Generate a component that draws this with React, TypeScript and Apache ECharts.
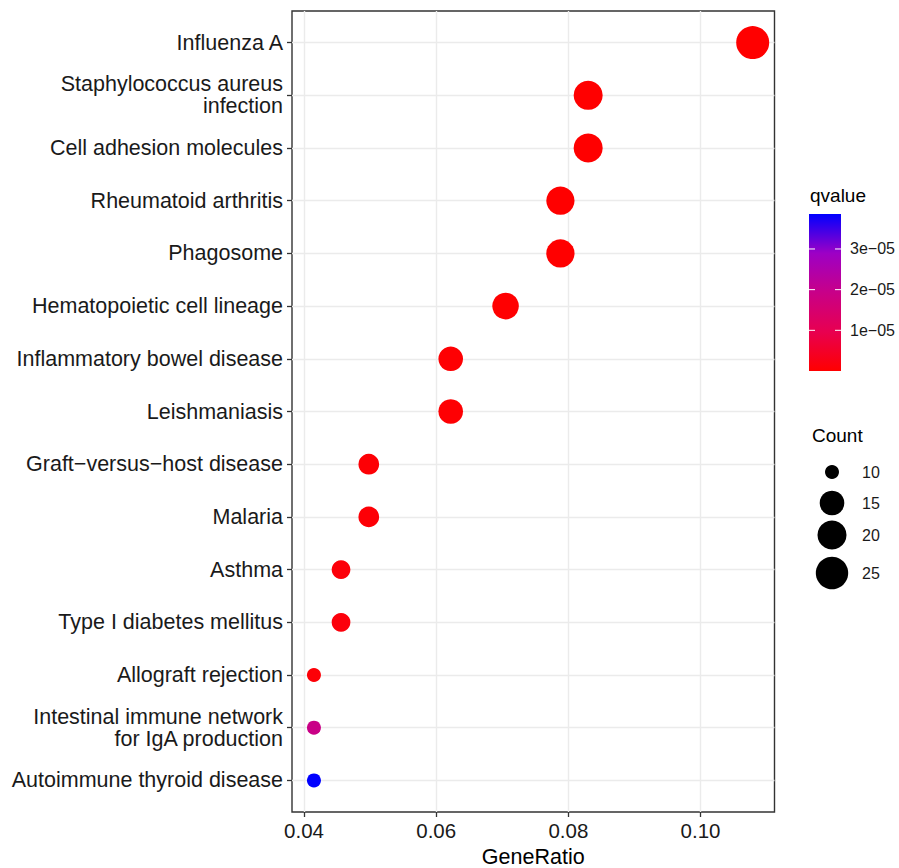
import React, { useEffect, useRef } from "react";
import * as echarts from "echarts";

const CATEGORIES = [
  "Influenza A",
  "Staphylococcus aureus\ninfection",
  "Cell adhesion molecules",
  "Rheumatoid arthritis",
  "Phagosome",
  "Hematopoietic cell lineage",
  "Inflammatory bowel disease",
  "Leishmaniasis",
  "Graft\u2212versus\u2212host disease",
  "Malaria",
  "Asthma",
  "Type I diabetes mellitus",
  "Allograft rejection",
  "Intestinal immune network\nfor IgA production",
  "Autoimmune thyroid disease",
];
const GENE_RATIO = [0.1079, 0.083, 0.083, 0.0788, 0.0788, 0.0705, 0.0622, 0.0622, 0.0498, 0.0498, 0.0456, 0.0456, 0.0415, 0.0415, 0.0415];
const COUNTS = [26, 20, 20, 19, 19, 17, 15, 15, 12, 12, 11, 11, 10, 10, 10];
const QVALUES = [1.2e-10, 3.5e-9, 4.1e-9, 2.0e-8, 2.3e-8, 8.0e-8, 3.6e-7, 4.1e-7, 6.4e-7, 7.6e-7, 1.1e-6, 1.3e-6, 9.0e-7, 1.9e-5, 3.86e-5];
const X_TICKS = [0.04, 0.06, 0.08, 0.1];
const Q_TICKS = [1e-5, 2e-5, 3e-5];
const COUNT_BREAKS = [10, 15, 20, 25];
const COLOR_STOPS = ["#FF0000", "#E80050", "#C80088", "#9D00C5", "#0000FF"];

const FONT = "'Liberation Sans', Arial, sans-serif";

export default function App() {
  const ref = useRef<HTMLDivElement>(null);
  useEffect(() => {
    const chart = echarts.init(ref.current!, null, { renderer: "svg" });
    const qMin = Math.min(...QVALUES);
    const qMax = Math.max(...QVALUES);
    const cMin = Math.min(...COUNTS);
    const cMax = Math.max(...COUNTS);
    const sizeOf = (c: number) => 14 + 19 * Math.sqrt(Math.max(0, (c - cMin) / (cMax - cMin)));
    const data = CATEGORIES.map((_, i) => [GENE_RATIO[i], i, QVALUES[i], COUNTS[i]]);
    const fmtExp = (v: number) => {
      const [m, e] = v.toExponential(0).split("e");
      const sign = e[0] === "-" ? "\u2212" : "+";
      return `${m}e${sign}${e.slice(1).padStart(2, "0")}`;
    };

    // colour bar legend
    const barX = 809, barY = 214, barW = 32, barH = 157;
    const qY = (v: number) => barY + barH - ((v - qMin) / (qMax - qMin)) * barH;
    const graphics: any[] = [
      { type: "text", left: 810, top: 186, style: { text: "qvalue", font: `19px ${FONT}`, fill: "#000" } },
      {
        type: "rect",
        shape: { x: barX, y: barY, width: barW, height: barH },
        style: {
          fill: {
            type: "linear", x: 0, y: 1, x2: 0, y2: 0,
            colorStops: COLOR_STOPS.map((c, i) => ({ offset: i / (COLOR_STOPS.length - 1), color: c })),
          },
        },
      },
    ];
    Q_TICKS.forEach((v) => {
      const y = qY(v);
      graphics.push({ type: "line", shape: { x1: barX, y1: y, x2: barX + 6, y2: y }, style: { stroke: "#fff", lineWidth: 1 } });
      graphics.push({ type: "line", shape: { x1: barX + barW - 6, y1: y, x2: barX + barW, y2: y }, style: { stroke: "#fff", lineWidth: 1 } });
      graphics.push({ type: "text", x: 850, y, style: { text: fmtExp(v), font: `16px ${FONT}`, fill: "#1a1a1a", verticalAlign: "middle", align: "left" } });
    });
    // size legend
    graphics.push({ type: "text", left: 812, top: 426, style: { text: "Count", font: `19px ${FONT}`, fill: "#000" } });
    const sizeYs = [472, 503, 535, 573];
    COUNT_BREAKS.forEach((c, i) => {
      graphics.push({ type: "circle", shape: { cx: 832, cy: sizeYs[i], r: sizeOf(c) / 2 }, style: { fill: "#000" } });
      graphics.push({ type: "text", x: 862, y: sizeYs[i], style: { text: String(c), font: `16px ${FONT}`, fill: "#1a1a1a", verticalAlign: "middle", align: "left" } });
    });

    chart.setOption({
      animation: false,
      backgroundColor: "#fff",
      grid: {
        left: 292, right: 124.5, top: 11, bottom: 56,
        outerBoundsMode: "none",
        containLabel: false,
        show: true, borderColor: "#333", borderWidth: 1.4, backgroundColor: "#fff",
      },
      xAxis: {
        type: "value",
        min: 0.03818,
        max: 0.1112,
        minInterval: 0.01,
        maxInterval: 0.01,
        name: "GeneRatio",
        nameLocation: "middle",
        nameGap: 30,
        nameTextStyle: { fontSize: 21.5, color: "#000", fontFamily: FONT },
        axisLine: { show: false, onZero: false },
        axisTick: { show: true, customValues: X_TICKS, length: 5, lineStyle: { color: "#333", width: 1.3 } },
        axisLabel: {
          customValues: X_TICKS,
          formatter: (v: number) => v.toFixed(2),
          fontSize: 20.5, color: "#1a1a1a", fontFamily: FONT, margin: 8,
        },
        splitLine: { show: true, lineStyle: { color: "#EBEBEB", width: 1.4 } },
      },
      yAxis: {
        type: "value",
        inverse: true,
        min: -0.6,
        max: CATEGORIES.length - 0.4,
        minInterval: 1,
        maxInterval: 1,
        axisLine: { show: false, onZero: false },
        axisTick: { show: true, customValues: CATEGORIES.map((_, i) => i), length: 5, lineStyle: { color: "#333", width: 1.3 } },
        axisLabel: {
          customValues: CATEGORIES.map((_, i) => i),
          formatter: (v: number) => CATEGORIES[Math.round(v)] ?? "",
          fontSize: 21.5, color: "#1a1a1a", fontFamily: FONT, margin: 9, lineHeight: 22, align: "right",
        },
        splitLine: { show: true, lineStyle: { color: "#EBEBEB", width: 1.4 } },
      },
      visualMap: {
        type: "continuous",
        show: false,
        dimension: 2,
        min: qMin,
        max: qMax,
        seriesIndex: 0,
        inRange: { color: COLOR_STOPS },
      },
      series: [
        {
          type: "scatter",
          data,
          symbol: "circle",
          symbolSize: (val: number[]) => sizeOf(val[3]),
          itemStyle: { opacity: 1 },
          z: 5,
        },
      ],
      graphic: graphics,
    });
    return () => chart.dispose();
  }, []);
  return (
    <div
      ref={ref}
      style={{ position: "fixed", left: 0, top: 0, width: 899, height: 868, background: "#fff" }}
    />
  );
}
